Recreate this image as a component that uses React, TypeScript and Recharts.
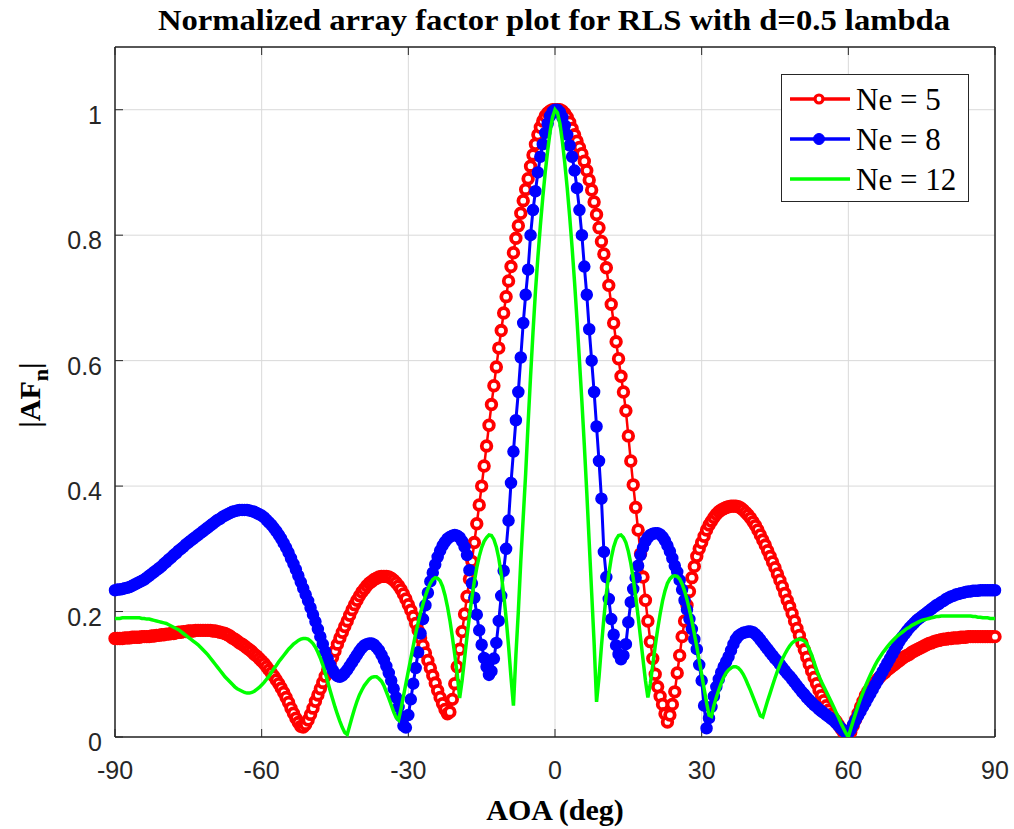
import React from "react";
import { LineChart, Line, XAxis, YAxis, CartesianGrid, Legend, Label } from "recharts";

// sampling grid of the pattern, 0.5 deg
const aoa = Array.from({ length: 361 }, (_, i) => -90 + i * 0.5);

// |AFn|, one row = 5 deg
const ne5 = [
  0.157, 0.157, 0.157, 0.157, 0.158, 0.158, 0.158, 0.159, 0.159, 0.159,
  0.159, 0.160, 0.160, 0.160, 0.160, 0.161, 0.161, 0.162, 0.162, 0.163,
  0.163, 0.164, 0.164, 0.165, 0.165, 0.166, 0.167, 0.167, 0.168, 0.168,
  0.169, 0.169, 0.169, 0.170, 0.170, 0.170, 0.170, 0.170, 0.170, 0.170,
  0.169, 0.169, 0.168, 0.167, 0.166, 0.165, 0.163, 0.161, 0.158, 0.156,
  0.153, 0.150, 0.148, 0.145, 0.142, 0.139, 0.136, 0.132, 0.129, 0.125,
  0.121, 0.117, 0.112, 0.107, 0.102, 0.097, 0.091, 0.085, 0.078, 0.071,
  0.063, 0.055, 0.046, 0.038, 0.030, 0.023, 0.017, 0.016, 0.020, 0.027,
  0.036, 0.046, 0.057, 0.067, 0.077, 0.087, 0.097, 0.107, 0.117, 0.127,
  0.137, 0.148, 0.158, 0.167, 0.176, 0.185, 0.194, 0.203, 0.211, 0.218,
  0.225, 0.231, 0.236, 0.241, 0.245, 0.248, 0.251, 0.253, 0.255, 0.256,
  0.256, 0.256, 0.255, 0.253, 0.250, 0.246, 0.241, 0.235, 0.228, 0.220,
  0.211, 0.202, 0.192, 0.181, 0.170, 0.158, 0.146, 0.134, 0.122, 0.110,
  0.098, 0.086, 0.074, 0.063, 0.053, 0.044, 0.037, 0.040, 0.060, 0.085,
  0.112, 0.140, 0.168, 0.196, 0.224, 0.252, 0.280, 0.310, 0.340, 0.370,
  0.400, 0.432, 0.464, 0.497, 0.530, 0.560, 0.590, 0.620, 0.648, 0.676,
  0.702, 0.727, 0.750, 0.772, 0.795, 0.815, 0.835, 0.855, 0.873, 0.890,
  0.910, 0.928, 0.945, 0.960, 0.972, 0.982, 0.990, 0.995, 0.998, 1.000,
  1.000, 1.000, 1.000, 0.998, 0.994, 0.988, 0.980, 0.970, 0.960, 0.950,
  0.940, 0.930, 0.918, 0.903, 0.888, 0.872, 0.853, 0.833, 0.812, 0.790,
  0.770, 0.748, 0.720, 0.690, 0.660, 0.630, 0.603, 0.575, 0.550, 0.520,
  0.480, 0.440, 0.402, 0.366, 0.330, 0.292, 0.255, 0.218, 0.185, 0.152,
  0.125, 0.100, 0.080, 0.065, 0.052, 0.037, 0.024, 0.035, 0.052, 0.072,
  0.102, 0.130, 0.160, 0.185, 0.210, 0.232, 0.254, 0.272, 0.288, 0.300,
  0.310, 0.320, 0.330, 0.338, 0.344, 0.350, 0.355, 0.359, 0.362, 0.364,
  0.366, 0.367, 0.368, 0.368, 0.368, 0.367, 0.365, 0.362, 0.358, 0.354,
  0.349, 0.343, 0.337, 0.330, 0.322, 0.314, 0.306, 0.297, 0.288, 0.279,
  0.270, 0.260, 0.250, 0.240, 0.229, 0.218, 0.208, 0.197, 0.185, 0.173,
  0.162, 0.150, 0.139, 0.127, 0.116, 0.105, 0.095, 0.085, 0.075, 0.066,
  0.058, 0.050, 0.043, 0.036, 0.030, 0.025, 0.019, 0.013, 0.008, 0.003,
  0.000, 0.008, 0.018, 0.028, 0.038, 0.048, 0.057, 0.066, 0.073, 0.078,
  0.083, 0.087, 0.092, 0.096, 0.100, 0.103, 0.107, 0.110, 0.113, 0.116,
  0.119, 0.122, 0.125, 0.128, 0.130, 0.132, 0.135, 0.137, 0.139, 0.141,
  0.143, 0.145, 0.147, 0.149, 0.150, 0.152, 0.153, 0.154, 0.155, 0.156,
  0.156, 0.157, 0.157, 0.158, 0.158, 0.158, 0.159, 0.159, 0.159, 0.160,
  0.160, 0.160, 0.160, 0.160, 0.160, 0.160, 0.160, 0.160, 0.160, 0.160,
  0.160,
];

const ne8 = [
  0.234, 0.235, 0.235, 0.236, 0.237, 0.238, 0.239, 0.241, 0.243, 0.245,
  0.247, 0.249, 0.251, 0.254, 0.257, 0.260, 0.263, 0.266, 0.269, 0.272,
  0.276, 0.279, 0.283, 0.286, 0.290, 0.293, 0.297, 0.300, 0.303, 0.307,
  0.310, 0.313, 0.316, 0.319, 0.322, 0.325, 0.328, 0.331, 0.334, 0.337,
  0.340, 0.343, 0.346, 0.348, 0.351, 0.353, 0.355, 0.357, 0.359, 0.360,
  0.361, 0.362, 0.362, 0.362, 0.362, 0.361, 0.360, 0.359, 0.357, 0.355,
  0.353, 0.350, 0.346, 0.342, 0.338, 0.333, 0.328, 0.322, 0.316, 0.309,
  0.302, 0.294, 0.285, 0.276, 0.267, 0.257, 0.247, 0.237, 0.227, 0.217,
  0.206, 0.195, 0.184, 0.172, 0.160, 0.148, 0.136, 0.125, 0.115, 0.107,
  0.101, 0.097, 0.096, 0.098, 0.102, 0.107, 0.113, 0.119, 0.125, 0.131,
  0.137, 0.142, 0.146, 0.148, 0.149, 0.149, 0.147, 0.143, 0.138, 0.131,
  0.123, 0.113, 0.102, 0.090, 0.077, 0.063, 0.048, 0.033, 0.018, 0.015,
  0.035, 0.060, 0.085, 0.110, 0.135, 0.165, 0.188, 0.210, 0.230, 0.248,
  0.262, 0.275, 0.287, 0.297, 0.305, 0.311, 0.316, 0.319, 0.321, 0.322,
  0.321, 0.318, 0.312, 0.303, 0.290, 0.266, 0.245, 0.222, 0.195, 0.170,
  0.147, 0.126, 0.112, 0.099, 0.105, 0.125, 0.150, 0.185, 0.225, 0.265,
  0.300, 0.345, 0.405, 0.455, 0.505, 0.550, 0.605, 0.660, 0.705, 0.745,
  0.800, 0.840, 0.870, 0.900, 0.925, 0.945, 0.963, 0.978, 0.990, 0.997,
  1.000, 1.000, 0.996, 0.988, 0.975, 0.960, 0.943, 0.925, 0.903, 0.875,
  0.840, 0.800, 0.750, 0.705, 0.650, 0.600, 0.550, 0.495, 0.440, 0.380,
  0.295, 0.255, 0.220, 0.188, 0.163, 0.146, 0.132, 0.124, 0.130, 0.148,
  0.183, 0.215, 0.236, 0.254, 0.273, 0.290, 0.302, 0.312, 0.318, 0.322,
  0.324, 0.325, 0.325, 0.323, 0.319, 0.313, 0.305, 0.296, 0.285, 0.273,
  0.263, 0.250, 0.235, 0.218, 0.203, 0.188, 0.172, 0.156, 0.140, 0.115,
  0.090, 0.050, 0.014, 0.030, 0.048, 0.065, 0.080, 0.092, 0.103, 0.112,
  0.120, 0.128, 0.138, 0.148, 0.156, 0.161, 0.164, 0.166, 0.167, 0.168,
  0.168, 0.167, 0.164, 0.160, 0.155, 0.150, 0.145, 0.140, 0.135, 0.130,
  0.125, 0.121, 0.116, 0.111, 0.106, 0.101, 0.097, 0.092, 0.087, 0.082,
  0.077, 0.072, 0.068, 0.063, 0.059, 0.055, 0.051, 0.048, 0.044, 0.041,
  0.038, 0.035, 0.032, 0.029, 0.026, 0.022, 0.018, 0.014, 0.010, 0.007,
  0.006, 0.012, 0.020, 0.027, 0.034, 0.041, 0.048, 0.055, 0.062, 0.069,
  0.076, 0.083, 0.090, 0.097, 0.104, 0.111, 0.118, 0.125, 0.132, 0.139,
  0.146, 0.153, 0.159, 0.164, 0.169, 0.174, 0.178, 0.182, 0.186, 0.189,
  0.192, 0.195, 0.198, 0.201, 0.204, 0.207, 0.210, 0.212, 0.215, 0.217,
  0.220, 0.222, 0.224, 0.225, 0.227, 0.228, 0.229, 0.230, 0.231, 0.232,
  0.232, 0.233, 0.233, 0.233, 0.234, 0.234, 0.234, 0.234, 0.234, 0.234,
  0.234,
];

const ne12 = [
  0.189, 0.189, 0.189, 0.190, 0.190, 0.190, 0.190, 0.190, 0.190, 0.190,
  0.190, 0.189, 0.189, 0.188, 0.188, 0.187, 0.186, 0.185, 0.184, 0.183,
  0.182, 0.181, 0.179, 0.177, 0.175, 0.173, 0.171, 0.168, 0.165, 0.162,
  0.159, 0.156, 0.153, 0.150, 0.147, 0.143, 0.139, 0.135, 0.131, 0.126,
  0.121, 0.116, 0.111, 0.106, 0.101, 0.096, 0.092, 0.088, 0.084, 0.080,
  0.077, 0.075, 0.073, 0.071, 0.070, 0.070, 0.071, 0.073, 0.076, 0.079,
  0.083, 0.087, 0.092, 0.097, 0.103, 0.109, 0.114, 0.120, 0.125, 0.130,
  0.135, 0.140, 0.144, 0.148, 0.151, 0.154, 0.156, 0.157, 0.157, 0.156,
  0.153, 0.149, 0.143, 0.135, 0.126, 0.115, 0.102, 0.088, 0.074, 0.061,
  0.048, 0.036, 0.025, 0.015, 0.007, 0.004, 0.018, 0.032, 0.045, 0.057,
  0.067, 0.075, 0.082, 0.087, 0.092, 0.095, 0.096, 0.096, 0.093, 0.089,
  0.082, 0.072, 0.062, 0.051, 0.040, 0.031, 0.027, 0.045, 0.065, 0.085,
  0.105, 0.125, 0.145, 0.165, 0.182, 0.198, 0.212, 0.225, 0.236, 0.245,
  0.251, 0.254, 0.253, 0.249, 0.240, 0.226, 0.208, 0.186, 0.160, 0.131,
  0.100, 0.062, 0.090, 0.125, 0.160, 0.193, 0.222, 0.248, 0.270, 0.288,
  0.302, 0.312, 0.318, 0.322, 0.321, 0.315, 0.303, 0.285, 0.260, 0.228,
  0.190, 0.145, 0.095, 0.050, 0.130, 0.200, 0.280, 0.350, 0.420, 0.500,
  0.575, 0.645, 0.710, 0.765, 0.815, 0.860, 0.900, 0.935, 0.965, 0.988,
  1.000, 0.995, 0.978, 0.950, 0.915, 0.875, 0.830, 0.780, 0.725, 0.665,
  0.600, 0.535, 0.465, 0.390, 0.310, 0.230, 0.150, 0.056, 0.095, 0.145,
  0.190, 0.228, 0.260, 0.285, 0.303, 0.315, 0.321, 0.322, 0.318, 0.310,
  0.296, 0.277, 0.253, 0.224, 0.192, 0.158, 0.124, 0.090, 0.063, 0.085,
  0.115, 0.145, 0.172, 0.196, 0.217, 0.233, 0.245, 0.252, 0.256, 0.257,
  0.256, 0.252, 0.244, 0.233, 0.219, 0.203, 0.185, 0.165, 0.144, 0.122,
  0.100, 0.077, 0.055, 0.035, 0.033, 0.050, 0.063, 0.075, 0.086, 0.095,
  0.102, 0.107, 0.110, 0.112, 0.112, 0.110, 0.106, 0.100, 0.092, 0.083,
  0.074, 0.064, 0.054, 0.044, 0.034, 0.032, 0.045, 0.058, 0.070, 0.082,
  0.094, 0.105, 0.115, 0.124, 0.132, 0.139, 0.145, 0.150, 0.153, 0.155,
  0.156, 0.155, 0.153, 0.149, 0.140, 0.131, 0.119, 0.107, 0.097, 0.088,
  0.080, 0.072, 0.064, 0.056, 0.048, 0.039, 0.031, 0.022, 0.014, 0.006,
  0.000, 0.013, 0.026, 0.038, 0.050, 0.061, 0.071, 0.081, 0.090, 0.099,
  0.107, 0.115, 0.122, 0.128, 0.134, 0.139, 0.144, 0.149, 0.153, 0.157,
  0.161, 0.164, 0.167, 0.170, 0.173, 0.175, 0.178, 0.180, 0.182, 0.184,
  0.186, 0.187, 0.188, 0.189, 0.190, 0.191, 0.192, 0.192, 0.193, 0.193,
  0.193, 0.193, 0.193, 0.193, 0.193, 0.193, 0.193, 0.193, 0.193, 0.193,
  0.193, 0.192, 0.192, 0.191, 0.191, 0.190, 0.190, 0.190, 0.189, 0.189,
  0.189,
];

const xTicks = [-90, -60, -30, 0, 30, 60, 90];
const yTicks = [0, 0.2, 0.4, 0.6, 0.8, 1];
const seriesNames = ["Ne = 5", "Ne = 8", "Ne = 12"];
const chartTitle = "Normalized array factor plot for RLS with d=0.5 lambda";

const data = aoa.map((a, i) => ({ aoa: a, ne5: ne5[i], ne8: ne8[i], ne12: ne12[i] }));

const SANS = "'Liberation Sans', Arial, Helvetica, sans-serif";
const SERIF = "'Liberation Serif', 'Times New Roman', Times, serif";
const AXIS = "#262626";
const RED = "#ff0000";
const BLUE = "#0000ff";
const GREEN = "#00ff00";
const colors = [RED, BLUE, GREEN];

const W = 1014;
const H = 829;

const XTick = (props: any) => (
  <text x={props.x} y={props.y} textAnchor="middle" fontFamily={SANS} fontSize={25} fill={AXIS}>
    {props.payload.value}
  </text>
);

const YTick = (props: any) => (
  <text x={props.x} y={props.y + 14} textAnchor="end" fontFamily={SANS} fontSize={25} fill={AXIS}>
    {props.payload.value}
  </text>
);

const NoTick = () => <g />;

// legend drawn from our own series list so the order stays 5, 8, 12
const renderLegend = () => (
  <svg width={188} height={128} style={{ display: "block" }}>
    <rect x={0.5} y={0.5} width={187} height={127} fill="#ffffff" stroke={AXIS} strokeWidth={1} />
    {seriesNames.map((name, i) => {
      const cy = 25 + i * 40;
      return (
        <g key={name}>
          <line x1={9} x2={69} y1={cy} y2={cy} stroke={colors[i]} strokeWidth={3.5} />
          {i === 0 && <circle cx={38} cy={cy} r={4} fill="#ffffff" stroke={RED} strokeWidth={3.2} />}
          {i === 1 && <circle cx={38} cy={cy} r={5.5} fill={BLUE} stroke={BLUE} />}
          <text x={75} y={cy + 11} fontFamily={SERIF} fontSize={31} fill="#000">
            {name}
          </text>
        </g>
      );
    })}
  </svg>
);

export default function App() {
  return (
    <div style={{ position: "absolute", left: 0, top: 0, width: W, height: H, background: "#fff" }}>
      <LineChart width={W} height={H} data={data} margin={{ top: 46, right: 18, bottom: 42, left: 0 }}>
        <CartesianGrid stroke="#d9d9d9" strokeWidth={1} />
        <XAxis
          dataKey="aoa"
          type="number"
          domain={[-90, 90]}
          ticks={xTicks}
          interval={0}
          height={50}
          tickSize={-8}
          tickMargin={50}
          tick={<XTick />}
          axisLine={{ stroke: AXIS, strokeWidth: 1.5 }}
          tickLine={{ stroke: AXIS }}
        >
          <Label
            content={() => (
              <text x={555} y={820} textAnchor="middle" fontFamily={SERIF} fontWeight="bold" fontSize={30} fill="#000">
                AOA (deg)
              </text>
            )}
          />
        </XAxis>
        <XAxis
          xAxisId="top"
          orientation="top"
          dataKey="aoa"
          type="number"
          domain={[-90, 90]}
          ticks={xTicks}
          interval={0}
          height={1}
          tickSize={-8}
          tick={<NoTick />}
          axisLine={{ stroke: AXIS, strokeWidth: 1.5 }}
          tickLine={{ stroke: AXIS }}
        >
          <Label
            content={() => (
              <text
                x={554}
                y={30}
                textAnchor="middle"
                fontFamily={SERIF}
                fontWeight="bold"
                fontSize={29}
                fill="#000"
                textLength={792}
                lengthAdjust="spacingAndGlyphs"
              >
                {chartTitle}
              </text>
            )}
          />
        </XAxis>
        <YAxis
          type="number"
          domain={[0, 1.1]}
          allowDataOverflow
          ticks={yTicks}
          interval={0}
          width={115}
          tickSize={-8}
          tickMargin={21}
          tick={<YTick />}
          axisLine={{ stroke: AXIS, strokeWidth: 1.5 }}
          tickLine={{ stroke: AXIS }}
        >
          <Label
            content={() => (
              <text
                x={40}
                y={395}
                transform="rotate(-90 40 395)"
                textAnchor="middle"
                fontFamily={SERIF}
                fontWeight="bold"
                fontSize={30}
                fill="#000"
              >
                |AF
                <tspan fontSize={22} dy={8}>n</tspan>
                <tspan dy={-8}>|</tspan>
              </text>
            )}
          />
        </YAxis>
        <YAxis
          yAxisId="right"
          orientation="right"
          type="number"
          domain={[0, 1.1]}
          ticks={yTicks}
          interval={0}
          width={1}
          tickSize={-8}
          tick={<NoTick />}
          axisLine={{ stroke: AXIS, strokeWidth: 1.5 }}
          tickLine={{ stroke: AXIS }}
        />
        <Line
          type="linear"
          dataKey="ne5"
          name={seriesNames[0]}
          stroke={RED}
          strokeWidth={2.5}
          dot={{ r: 4.8, stroke: RED, strokeWidth: 3.8, fill: "#ffffff" }}
          activeDot={false}
          isAnimationActive={false}
        />
        <Line
          type="linear"
          dataKey="ne8"
          name={seriesNames[1]}
          stroke={BLUE}
          strokeWidth={3}
          dot={{ r: 5.5, stroke: BLUE, strokeWidth: 1.5, fill: BLUE }}
          activeDot={false}
          isAnimationActive={false}
        />
      </LineChart>

      {/* green series on its own layer so it sits above the red and blue markers */}
      <div style={{ position: "absolute", left: 0, top: 0, width: W, height: H, pointerEvents: "none" }}>
        <LineChart width={W} height={H} data={data} margin={{ top: 47, right: 19, bottom: 92, left: 115 }}>
          <XAxis dataKey="aoa" type="number" domain={[-90, 90]} hide />
          <YAxis type="number" domain={[0, 1.1]} allowDataOverflow hide />
          <Legend
            layout="vertical"
            align="center"
            verticalAlign="middle"
            wrapperStyle={{ left: 781, top: 74, width: 188, height: 128 }}
            content={renderLegend}
          />
          <Line
            type="linear"
            dataKey="ne12"
            name={seriesNames[2]}
            stroke={GREEN}
            strokeWidth={3.5}
            dot={false}
            activeDot={false}
            isAnimationActive={false}
          />
        </LineChart>
      </div>
    </div>
  );
}
